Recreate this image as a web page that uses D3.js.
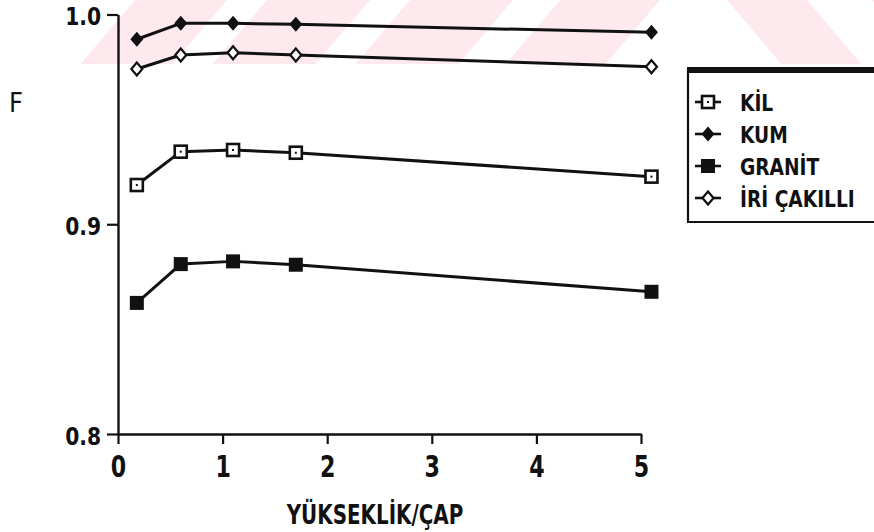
<!DOCTYPE html>
<html>
<head>
<meta charset="utf-8">
<script src="https://cdn.jsdelivr.net/npm/d3@7"></script>
<style>
  html, body { margin: 0; padding: 0; background: #fff; }
  svg { display: block; }
  text { font-family: "DejaVu Sans Condensed", "DejaVu Sans", sans-serif; fill: #111; font-weight: bold; }
</style>
</head>
<body>
<svg id="chart" width="874" height="532"></svg>
<script>
// Height/diameter ratios measured
const ratios = [0.18, 0.6, 1.1, 1.7, 5.1];

// F factor for each soil type
const kil     = [0.9187, 0.9346, 0.9354, 0.9341, 0.9227];
const kum     = [0.9882, 0.9958, 0.9958, 0.9953, 0.9915];
const granit  = [0.8625, 0.8810, 0.8823, 0.8807, 0.8678];
const iriCakilli = [0.9740, 0.9807, 0.9818, 0.9807, 0.9751];

const seriesNames = ["KİL", "KUM", "GRANİT", "İRİ ÇAKILLI"];
const seriesValues = [kil, kum, granit, iriCakilli];
const markerKinds = ["openSquare", "filledDiamond", "filledSquare", "openDiamond"];

const xTicks = [0, 1, 2, 3, 4, 5];
const yTicks = [0.8, 0.9, 1.0];

const xTitle = "YÜKSEKLİK/ÇAP";
const yTitle = "F";

const FONT = '"DejaVu Sans Condensed", "DejaVu Sans", sans-serif';
const svg = d3.select("#chart");

// squeeze glyphs horizontally to get the tall, narrow lettering
function condense(sel, factor) {
  sel.each(function () {
    const w = this.getComputedTextLength();
    d3.select(this).attr("textLength", w * factor).attr("lengthAdjust", "spacingAndGlyphs");
  });
}

// pale striped background band along the top edge
const bg = svg.append("g").attr("class", "band");
const bandH = 64, lean = 0.85;
const leftStripes = [[135, 227], [267, 370], [410, 513], [560, 660]];
const rightStripes = [[727, 807], [872, 980]];
leftStripes.forEach(([a, b]) => {
  bg.append("path")
    .attr("d", `M${a},0L${b},0L${b - lean * bandH},${bandH}L${a - lean * bandH},${bandH}Z`)
    .attr("fill", "#fde9ee");
});
rightStripes.forEach(([a, b]) => {
  bg.append("path")
    .attr("d", `M${a},0L${b},0L${b + lean * bandH},${bandH}L${a + lean * bandH},${bandH}Z`)
    .attr("fill", "#fde9ee");
});

const x = d3.scaleLinear().domain([0, 5]).range([118, 641]);
const y = d3.scaleLinear().domain([0.8, 1.0]).range([434, 14.5]);

// y axis
const yAxis = svg.append("g")
  .attr("transform", `translate(${x(0)},0)`)
  .call(d3.axisLeft(y).tickValues(yTicks).tickFormat(d3.format(".1f"))
    .tickSize(11).tickSizeOuter(0).tickPadding(6));
yAxis.select(".domain").attr("stroke", "#111").attr("stroke-width", 2.4);
yAxis.selectAll(".tick line").attr("stroke", "#111").attr("stroke-width", 2.2);
yAxis.selectAll(".tick text")
  .attr("font-size", 25).attr("dy", "0.4em").attr("fill", "#111")
  .style("font-family", FONT).style("font-weight", "bold")
  .call(condense, 0.9);

// x axis
const xAxis = svg.append("g")
  .attr("transform", `translate(0,${y(0.8)})`)
  .call(d3.axisBottom(x).tickValues(xTicks).tickFormat(d3.format("d"))
    .tickSize(10).tickSizeOuter(0).tickPadding(12));
xAxis.select(".domain").attr("stroke", "#111").attr("stroke-width", 2.4);
xAxis.selectAll(".tick text")
  .attr("font-size", 30).attr("fill", "#111")
  .style("font-family", FONT).style("font-weight", "bold")
  .call(condense, 0.82);
xAxis.selectAll(".tick line").attr("stroke", "#111").attr("stroke-width", 2.2);

// axis titles
svg.append("text").attr("x", 16).attr("y", 112).attr("text-anchor", "middle")
  .attr("font-size", 27).style("font-weight", "normal").text(yTitle);
svg.append("text").attr("x", 375).attr("y", 524).attr("text-anchor", "middle")
  .attr("font-size", 26).text(xTitle)
  .call(condense, 0.85);

// marker drawing
function drawMarker(g, kind, cx, cy) {
  if (kind === "openSquare") {
    g.append("rect").attr("x", cx - 6).attr("y", cy - 6).attr("width", 12).attr("height", 12)
      .attr("fill", "#fff").attr("stroke", "#111").attr("stroke-width", 2.6);
    g.append("rect").attr("x", cx - 1).attr("y", cy - 1).attr("width", 2).attr("height", 2)
      .attr("fill", "#111");
  } else if (kind === "filledSquare") {
    g.append("rect").attr("x", cx - 7).attr("y", cy - 7).attr("width", 14).attr("height", 14)
      .attr("fill", "#111");
  } else if (kind === "filledDiamond") {
    g.append("path").attr("d", `M${cx},${cy - 7.5}L${cx + 6.5},${cy}L${cx},${cy + 7.5}L${cx - 6.5},${cy}Z`)
      .attr("fill", "#111");
  } else {
    g.append("path").attr("d", `M${cx},${cy - 6.5}L${cx + 5.5},${cy}L${cx},${cy + 6.5}L${cx - 5.5},${cy}Z`)
      .attr("fill", "#fff").attr("stroke", "#111").attr("stroke-width", 2.2);
  }
}

const line = d3.line().x(d => x(d[0])).y(d => y(d[1]));
seriesValues.forEach((vals, i) => {
  const pts = ratios.map((r, j) => [r, vals[j]]);
  const g = svg.append("g");
  g.append("path").attr("d", line(pts)).attr("fill", "none")
    .attr("stroke", "#111").attr("stroke-width", 3).attr("stroke-linejoin", "round");
  pts.forEach(p => drawMarker(g, markerKinds[i], x(p[0]), y(p[1])));
});

// legend
const lg = svg.append("g");
lg.append("path").attr("d", "M688,222 L688,70 L880,70").attr("fill", "none")
  .attr("stroke", "#111").attr("stroke-width", 2.2);
lg.append("rect").attr("x", 687).attr("y", 67).attr("width", 200).attr("height", 6).attr("fill", "#111");
lg.append("line").attr("x1", 687).attr("x2", 880).attr("y1", 222).attr("y2", 222)
  .attr("stroke", "#111").attr("stroke-width", 2.2);
seriesNames.forEach((name, i) => {
  const cy = 102 + i * 32;
  lg.append("line").attr("x1", 695).attr("x2", 721).attr("y1", cy).attr("y2", cy)
    .attr("stroke", "#111").attr("stroke-width", 2.6);
  drawMarker(lg, markerKinds[i], 708, cy);
  lg.append("text").attr("x", 740).attr("y", cy + 8.5).attr("font-size", 23).text(name)
    .call(condense, 0.9);
});
</script>
</body>
</html>
